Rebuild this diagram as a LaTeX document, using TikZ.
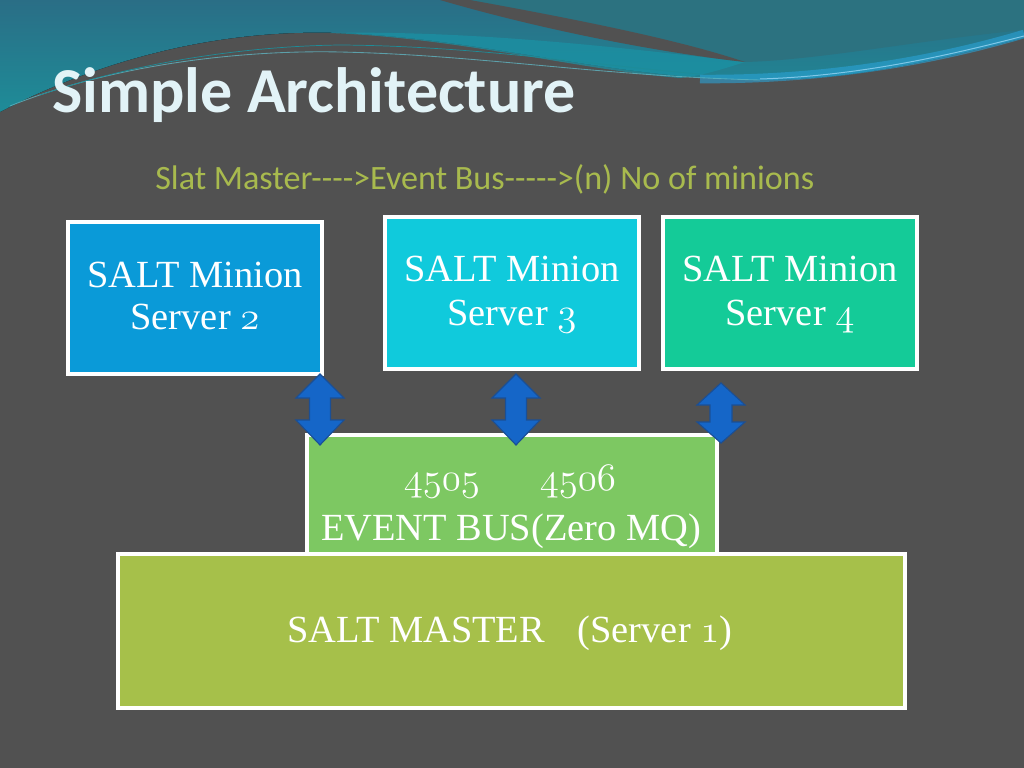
\documentclass[tikz,border=0pt]{standalone}
\usepackage{graphicx}
\usepackage{fontspec}
\newfontfamily\titlefont{Carlito}
\newfontfamily\boxfont{Liberation Serif}
\definecolor{bgc}{HTML}{515151}
\definecolor{tealA}{HTML}{2A6E86}
\definecolor{tealB}{HTML}{1E8C98}
\definecolor{tealC}{HTML}{2C7280}
\definecolor{stripe}{HTML}{1A93A6}
\definecolor{glow}{HTML}{2AA2D6}
\definecolor{titlec}{HTML}{E2F3F7}
\definecolor{subc}{HTML}{A8BA4E}
\definecolor{mtwo}{HTML}{0A9AD8}
\definecolor{mthree}{HTML}{10CADC}
\definecolor{mfour}{HTML}{14CB98}
\definecolor{busc}{HTML}{7DC862}
\definecolor{masterc}{HTML}{A6C04A}
\definecolor{arrf}{HTML}{1566C8}
\definecolor{arrd}{HTML}{1A4F96}
\newcommand\hy{-\kern0pt}
\newcommand\osn[1]{\scalebox{1.1}{$\mathnormal{#1}$}}
\newcommand\udarr[8]{% name, cx, top, bot, hw, sw, hhtop, hhbot
  \coordinate (#1) at (#2,{(#3+#4)/2});
  \draw[blockarrow] (#2,#3) -- (#2+#5,#3+#7) -- (#2+#6,#3+#7) -- (#2+#6,#4-#8)
    -- (#2+#5,#4-#8) -- (#2,#4) -- (#2-#5,#4-#8) -- (#2-#6,#4-#8)
    -- (#2-#6,#3+#7) -- (#2-#5,#3+#7) -- cycle;}
\begin{document}
\begin{tikzpicture}[x=0.703125pt,y=-0.703125pt,
  box/.style={draw=white,line width=2.2pt,inner sep=0pt},
  boxtext/.style={font=\boxfont\fontsize{27}{30}\selectfont,text=white,anchor=base,inner sep=0pt},
  blockarrow/.style={fill=arrf,draw=arrd,line width=0.8pt,line join=miter}]
\useasboundingbox (0,0) rectangle (1024,768);
\fill[bgc] (0,0) rectangle (1024,768);
% top wave
\fill[top color=tealA,bottom color=tealB] (0,0) -- (1024,0) -- (1024,38)
  .. controls (930,62) and (850,80) .. (760,80)
  .. controls (620,80) and (480,38) .. (340,33)
  .. controls (200,28) and (80,70) .. (0,112) -- cycle;
\fill[tealC] (470,0) -- (1024,0) -- (1024,30) .. controls (920,40) and (820,60) .. (745,62)
  .. controls (680,40) and (580,20) .. (470,0) -- cycle;
\fill[stripe,opacity=0.7] (330,33) .. controls (480,30) and (640,50) .. (745,62)
  .. controls (720,70) and (700,76) .. (680,78)
  .. controls (580,70) and (460,38) .. (330,33) -- cycle;
\fill[bgc] (440,0) -- (470,0) .. controls (580,20) and (680,40) .. (745,62)
  .. controls (680,55) and (560,35) .. (440,0) -- cycle;
\draw[glow,line width=6pt,opacity=0.6] (700,79) .. controls (820,80) and (930,62) .. (1024,34);
\draw[glow!60!white,line width=0.7pt] (760,79) .. controls (860,76) and (950,55) .. (1024,36);
\draw[stripe!70!white,line width=0.6pt,opacity=0.8] (10,106) .. controls (120,62) and (250,50) .. (340,52)
  .. controls (480,55) and (600,76) .. (760,80);
\draw[tealB,line width=0.5pt] (40,95) .. controls (150,58) and (260,46) .. (340,45)
  .. controls (480,46) and (600,66) .. (700,74);
% title and subtitle
\node[anchor=base west,inner sep=0pt,text=titlec,font=\titlefont\bfseries\fontsize{45}{50}\selectfont] (title) at (52,113) {Simple Architecture};
\node[anchor=base west,inner sep=0pt,text=subc,font=\titlefont\fontsize{24}{28}\selectfont] (sub) at (155,190)
  {Slat Master\hy\hy\hy\hy>Event Bus\hy\hy\hy\hy\hy>(n) No of minions};
% minion boxes
\node[box,fill=mtwo,minimum width=254*0.703125pt,minimum height=152*0.703125pt] (m2) at (195,298) {};
\node[box,fill=mthree,minimum width=254*0.703125pt,minimum height=152*0.703125pt] (m3) at (512,293) {};
\node[box,fill=mfour,minimum width=254*0.703125pt,minimum height=152*0.703125pt] (m4) at (790,293) {};
\node[boxtext] (m2a) at (195,287) {SALT Minion};
\node[boxtext] (m2b) at (195,330) {Server \osn{2}};
\node[boxtext] (m3a) at (512,282) {SALT Minion};
\node[boxtext] (m3b) at (512,325) {Server \osn{3}};
\node[boxtext] (m4a) at (790,282) {SALT Minion};
\node[boxtext] (m4b) at (790,325) {Server \osn{4}};
% event bus
\node[box,fill=busc,minimum width=410*0.703125pt,minimum height=124*0.703125pt] (bus) at (512,497) {};
\node[boxtext] (p1) at (442,490) {\osn{4505}};
\node[boxtext] (p2) at (578,490) {\osn{4506}};
\node[boxtext] (busl) at (511,540) {EVENT BUS(Zero MQ)};
% master
\node[box,fill=masterc,minimum width=787*0.703125pt,minimum height=154*0.703125pt] (master) at (511.5,631) {};
\node[boxtext] (ma) at (416,642) {SALT MASTER};
\node[boxtext] (mb) at (655,642) {(Server \osn{1})};
% double arrows
\udarr{a2}{320}{374}{445}{24}{10.5}{24}{25}
\udarr{a3}{516}{374}{445}{24}{10.5}{24}{25}
\udarr{a4}{721}{383}{443}{24}{11}{22}{21}
\end{tikzpicture}
\end{document}
